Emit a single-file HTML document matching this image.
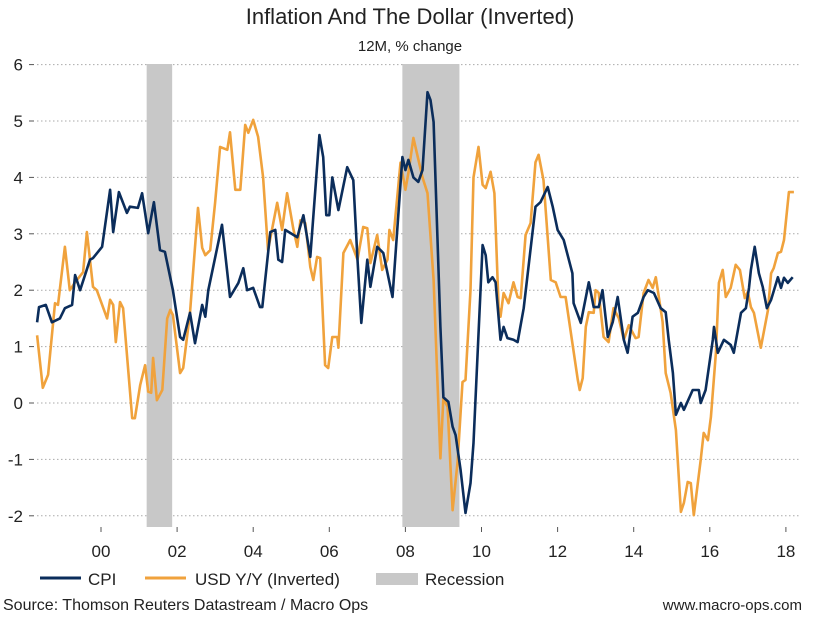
<!DOCTYPE html>
<html><head><meta charset="utf-8"><style>
body{margin:0;background:#fff;width:819px;height:613px;overflow:hidden;font-family:"Liberation Sans",sans-serif;}
svg text{font-family:"Liberation Sans",sans-serif;fill:#222;}
</style></head><body>
<svg id="chart" width="819" height="613" viewBox="0 0 819 613" xmlns="http://www.w3.org/2000/svg">
<text x="410" y="24" font-size="22" text-anchor="middle">Inflation And The Dollar (Inverted)</text>
<text x="410" y="51" font-size="15" text-anchor="middle">12M, % change</text>
<g id="grid"></g>
<g id="rec"></g>
<g id="series"></g>
<g id="axes"></g>
<g>
<line x1="40" y1="578" x2="81" y2="578" stroke="#0b2d5b" stroke-width="3"/>
<text x="88" y="585" font-size="17">CPI</text>
<line x1="145" y1="578" x2="186" y2="578" stroke="#f0a23c" stroke-width="3"/>
<text x="195" y="585" font-size="17">USD Y/Y (Inverted)</text>
<rect x="376" y="573" width="42" height="12" fill="#c8c8c8"/>
<text x="425" y="585" font-size="17">Recession</text>
</g>
<text x="3" y="610" font-size="16">Source: Thomson Reuters Datastream / Macro Ops</text>
<text x="802" y="610" font-size="15" text-anchor="end">www.macro-ops.com</text>
</svg>
<script>
const yTicks=[6,5,4,3,2,1,0,-1,-2];
const xTickYears=[2000,2002,2004,2006,2008,2010,2012,2014,2016,2018];
const xTickLabels=["00","02","04","06","08","10","12","14","16","18"];
const recessionStarts=[2001.2,2007.92];
const recessionEnds=[2001.87,2009.42];
const cpiDates=[1998.32,1998.37,1998.55,1998.71,1998.92,1999.05,1999.24,1999.32,1999.45,1999.71,1999.79,2000.03,2000.24,2000.32,2000.47,2000.68,2000.76,2000.97,2001.08,2001.24,2001.39,2001.55,2001.68,2001.89,2002.08,2002.16,2002.34,2002.47,2002.66,2002.74,2002.82,2003.18,2003.39,2003.61,2003.74,2003.84,2004.0,2004.18,2004.24,2004.45,2004.58,2004.66,2004.76,2004.84,2005.16,2005.32,2005.5,2005.74,2005.84,2005.92,2006.0,2006.08,2006.24,2006.47,2006.63,2006.74,2006.84,2007.0,2007.08,2007.26,2007.42,2007.66,2007.92,2008.0,2008.08,2008.21,2008.34,2008.45,2008.58,2008.66,2008.74,2008.92,2009.0,2009.13,2009.24,2009.32,2009.45,2009.58,2009.71,2009.79,2010.03,2010.11,2010.18,2010.29,2010.37,2010.5,2010.58,2010.68,2010.84,2010.95,2011.11,2011.42,2011.55,2011.74,2011.87,2012.0,2012.16,2012.39,2012.42,2012.61,2012.82,2012.95,2013.08,2013.18,2013.32,2013.45,2013.58,2013.74,2013.84,2013.97,2014.11,2014.26,2014.37,2014.53,2014.71,2014.84,2014.92,2015.03,2015.11,2015.24,2015.32,2015.55,2015.71,2015.76,2015.89,2016.08,2016.11,2016.21,2016.37,2016.55,2016.63,2016.82,2016.95,2017.03,2017.08,2017.18,2017.29,2017.39,2017.5,2017.61,2017.79,2017.87,2017.95,2018.05,2018.18];
const cpiValues=[1.43,1.7,1.74,1.43,1.5,1.68,1.74,2.27,2.0,2.54,2.57,2.77,3.78,3.03,3.74,3.37,3.48,3.46,3.72,3.01,3.56,2.71,2.68,2.0,1.17,1.12,1.6,1.06,1.74,1.53,2.0,3.16,1.88,2.13,2.39,2.0,2.04,1.7,1.7,3.03,3.07,2.54,2.5,3.07,2.94,3.33,2.59,4.75,4.36,3.33,3.33,4.0,3.42,4.18,3.95,2.54,1.42,2.54,2.06,2.77,2.66,1.88,4.36,4.13,4.31,4.0,3.92,4.13,5.51,5.37,4.98,1.35,0.1,0.02,-0.42,-0.57,-1.19,-1.95,-1.42,-0.71,2.8,2.62,2.14,2.23,2.14,1.12,1.35,1.15,1.12,1.08,1.68,3.48,3.56,3.83,3.48,3.07,2.89,2.3,1.77,1.42,2.14,1.7,1.7,2.0,1.17,1.44,1.88,1.12,0.89,1.53,1.6,1.88,2.0,1.95,1.68,1.61,1.12,0.53,-0.21,0.0,-0.12,0.23,0.23,0.0,0.23,1.12,1.35,0.89,1.12,1.03,0.89,1.6,1.68,2.04,2.36,2.77,2.3,2.06,1.68,1.83,2.23,2.04,2.22,2.13,2.23];
const usdDates=[1998.32,1998.47,1998.61,1998.79,1998.87,1999.05,1999.18,1999.32,1999.53,1999.63,1999.79,1999.89,2000.16,2000.24,2000.32,2000.39,2000.5,2000.58,2000.82,2000.89,2001.03,2001.16,2001.24,2001.32,2001.37,2001.47,2001.61,2001.74,2001.82,2001.89,2002.08,2002.16,2002.34,2002.55,2002.66,2002.74,2002.87,2003.0,2003.13,2003.32,2003.39,2003.53,2003.66,2003.79,2003.87,2004.0,2004.13,2004.26,2004.39,2004.63,2004.76,2004.89,2005.05,2005.16,2005.24,2005.37,2005.5,2005.58,2005.68,2005.76,2005.89,2005.97,2006.08,2006.21,2006.24,2006.37,2006.55,2006.74,2006.89,2007.0,2007.08,2007.26,2007.39,2007.53,2007.58,2007.68,2007.87,2008.0,2008.08,2008.21,2008.45,2008.58,2008.74,2008.92,2009.0,2009.11,2009.24,2009.37,2009.5,2009.58,2009.71,2009.79,2009.92,2010.03,2010.11,2010.24,2010.34,2010.45,2010.5,2010.58,2010.71,2010.84,2010.95,2011.03,2011.16,2011.29,2011.42,2011.5,2011.63,2011.82,2011.95,2012.08,2012.21,2012.39,2012.53,2012.58,2012.66,2012.74,2012.82,2012.95,2013.0,2013.08,2013.21,2013.34,2013.47,2013.61,2013.74,2013.87,2014.05,2014.13,2014.26,2014.39,2014.5,2014.58,2014.76,2014.84,2014.97,2015.11,2015.24,2015.32,2015.42,2015.5,2015.58,2015.76,2015.84,2015.95,2016.03,2016.16,2016.24,2016.34,2016.42,2016.55,2016.68,2016.79,2016.92,2017.0,2017.08,2017.16,2017.34,2017.53,2017.61,2017.68,2017.79,2017.87,2017.95,2018.08,2018.21];
const usdValues=[1.2,0.27,0.5,1.77,1.74,2.77,2.0,2.14,2.32,3.03,2.06,2.0,1.5,1.83,1.74,1.08,1.79,1.68,-0.27,-0.27,0.32,0.67,0.2,0.18,0.8,0.05,0.23,1.5,1.65,1.56,0.53,0.62,1.6,3.46,2.75,2.62,2.71,3.55,4.54,4.49,4.8,3.78,3.78,4.93,4.79,5.02,4.72,4.0,2.71,3.55,3.07,3.72,3.1,2.77,3.24,3.19,2.41,2.18,2.59,2.57,0.67,0.62,1.17,1.17,0.98,2.66,2.89,2.54,3.12,3.1,2.48,2.98,2.36,2.54,3.07,2.89,4.26,3.78,4.08,4.7,4.0,3.72,2.18,-0.98,0.09,-0.07,-1.9,-1.06,0.37,0.41,2.0,4.0,4.54,3.87,3.81,4.1,3.72,1.7,1.53,1.95,1.77,2.14,1.88,1.86,2.98,3.19,4.27,4.4,3.95,2.18,2.14,1.88,1.88,1.06,0.41,0.23,0.44,1.35,1.61,1.6,2.0,1.95,1.17,1.08,1.68,1.5,1.12,1.38,1.15,1.17,1.95,2.18,2.04,2.23,1.44,0.53,0.18,-0.48,-1.93,-1.77,-1.4,-1.42,-1.99,-1.01,-0.53,-0.66,-0.25,0.89,2.13,2.36,1.88,2.04,2.45,2.36,1.86,1.97,1.7,1.6,0.98,1.65,2.3,2.39,2.66,2.68,2.89,3.74,3.74];

const NS='http://www.w3.org/2000/svg';
function xScale(yr){return 101+(yr-2000)*38.05;}
function yScale(v){return 403-v*56.4;}
function mk(tag,attrs,parent){const e=document.createElementNS(NS,tag);for(const k in attrs)e.setAttribute(k,attrs[k]);parent.appendChild(e);return e;}
const grid=document.getElementById('grid'),axes=document.getElementById('axes'),rec=document.getElementById('rec'),series=document.getElementById('series');
yTicks.forEach(t=>{
  const y=yScale(t);
  const g=mk('line',{x1:37,x2:800,y1:y,y2:y,stroke:'#aaa','stroke-width':1,'stroke-dasharray':'1.5 2.5'},grid);
  
  
  const tk=mk('line',{x1:29,x2:34,y1:y,y2:y,stroke:'#555','stroke-width':1},axes);
  
  
  const tx=mk('text',{x:23,y:y+6,'font-size':17,'text-anchor':'end'},axes);
  tx.textContent=String(t);
  
  
});
xTickYears.forEach((yr,i)=>{
  const x=xScale(yr);
  const tk=mk('line',{x1:x,x2:x,y1:527,y2:532,stroke:'#555','stroke-width':1},axes);
  
  
  const tx=mk('text',{x:x,y:557,'font-size':17,'text-anchor':'middle'},axes);
  tx.textContent=xTickLabels[i];
  
  
});
recessionStarts.forEach((s,i)=>{
  const x0=xScale(s),x1=xScale(recessionEnds[i]);
  const r=mk('rect',{x:x0,y:64,width:x1-x0,height:463,fill:'#c8c8c8'},rec);
  
  
});
function drawLine(d,v,color,name){
  const pts=d.map((yr,i)=>xScale(yr).toFixed(1)+','+yScale(v[i]).toFixed(1)).join(' ');
  const p=mk('polyline',{points:pts,fill:'none',stroke:color,'stroke-width':2.6,'stroke-linejoin':'round'},series);
  
  
}
drawLine(usdDates,usdValues,'#f0a23c','usd-line');
drawLine(cpiDates,cpiValues,'#0b2d5b','cpi-line');
</script>
</body></html>
